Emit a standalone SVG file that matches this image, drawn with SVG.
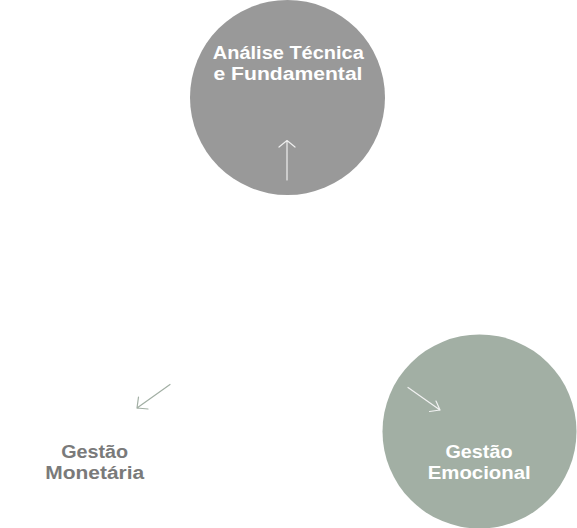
<svg xmlns="http://www.w3.org/2000/svg" width="577" height="528" viewBox="0 0 577 528">
<style>
.lbl{font-family:"Liberation Sans",Arial,sans-serif;font-weight:700;font-size:18px;text-anchor:middle}
.w{fill:#ffffff}
.g{fill:#7a7a7a}
.arr{fill:none;stroke-width:1.2;stroke-linecap:round;stroke-linejoin:round}
</style>
<rect width="577" height="528" fill="#ffffff"/>
<g id="node-analise">
<circle cx="287.5" cy="97.5" r="97.5" fill="#999999"/>
<text class="lbl w"><tspan x="288.3" y="58.5" textLength="151" lengthAdjust="spacingAndGlyphs">Análise Técnica</tspan><tspan x="288" y="79.5" textLength="149" lengthAdjust="spacingAndGlyphs">e Fundamental</tspan></text>
</g>
<g id="node-emocional">
<circle cx="479.5" cy="431.5" r="97" fill="#a2afa4"/>
<text class="lbl w"><tspan x="479" y="457.5" textLength="67" lengthAdjust="spacingAndGlyphs">Gestão</tspan><tspan x="479.2" y="478.5" textLength="103" lengthAdjust="spacingAndGlyphs">Emocional</tspan></text>
</g>
<g id="node-monetaria">
<circle cx="95" cy="431.5" r="97" fill="#ffffff"/>
<text class="lbl g"><tspan x="94.7" y="457.5" textLength="67" lengthAdjust="spacingAndGlyphs">Gestão</tspan><tspan x="94.7" y="478.5" textLength="99" lengthAdjust="spacingAndGlyphs">Monetária</tspan></text>
</g>
<g id="connectors">
<path class="arr" stroke="#eeeeee" d="M287 180 V141 M279 147 L287 140.5 L295 147"/>
<path class="arr" stroke="#f2f2f2" d="M408 387.5 L440 410 M429.5 411.5 L440 410 L436 401"/>
<path class="arr" stroke="#a2afa4" d="M170 384.5 L137 408 M138.5 397 L137 408 L148 409"/>
</g>
</svg>
